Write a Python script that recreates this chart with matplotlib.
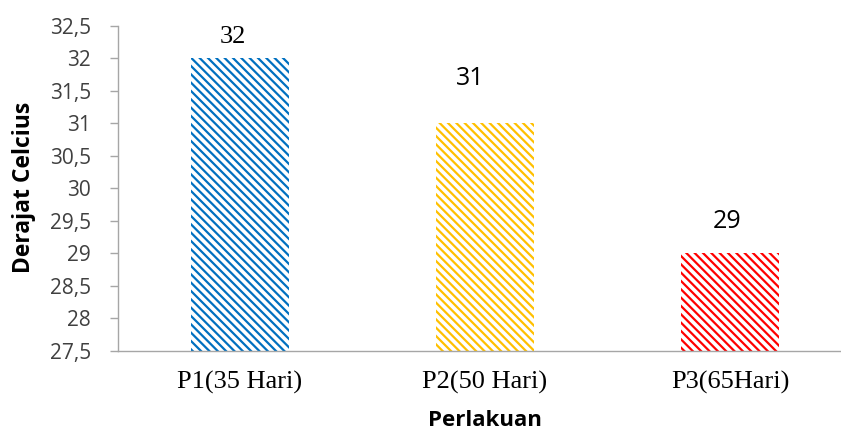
import matplotlib
matplotlib.use("Agg")
import matplotlib.pyplot as plt
from matplotlib.ticker import FuncFormatter

categories = ["P1(35 Hari)", "P2(50 Hari)", "P3(65Hari)"]
values = [32, 31, 29]
value_labels = ["32", "31", "29"]
bar_colors = ["#0070C0", "#FFC000", "#FF0000"]
y_ticks = [27.5, 28, 28.5, 29, 29.5, 30, 30.5, 31, 31.5, 32, 32.5]

# label style: first label was typed in a serif face in the original
label_fonts = ["Liberation Serif", "Open Sans", "Open Sans"]
label_sizes = [19, 18, 18]
label_offsets = [(-5.4, 11.5), (-10.8, 28), (-2.2, 18.7)]

plt.rcParams["hatch.linewidth"] = 1.6

fig = plt.figure(figsize=(8.41, 4.30), dpi=100)
ax = fig.add_axes([117.5 / 841, 79 / 430, 735 / 841, 325 / 430])

x = range(len(categories))
for i, v in enumerate(values):
    ax.bar(i, v - 27.5, bottom=27.5, width=0.4, facecolor="white",
           edgecolor=bar_colors[i], linewidth=0, hatch="\\\\\\\\")
    ax.annotate(value_labels[i], xy=(i, v), xytext=label_offsets[i],
                textcoords="offset points", ha="center", va="baseline",
                fontsize=label_sizes[i], family=label_fonts[i], color="black")

ax.set_xlim(-0.5, 2.5)
ax.set_ylim(27.5, 32.5)
ax.set_yticks(y_ticks)
ax.yaxis.set_major_formatter(FuncFormatter(lambda v, p: f"{v:g}".replace(".", ",")))
ax.set_xticks(list(x))
ax.set_xticklabels(categories, family="Liberation Serif", fontsize=19, color="black")

for lab in ax.get_yticklabels():
    lab.set_family("Open Sans")
    lab.set_fontsize(15)
    lab.set_color("#404040")

ax.tick_params(axis="y", direction="out", length=6, width=1, color="#A6A6A6", pad=13)
ax.tick_params(axis="x", length=0, pad=14)

for s in ["top", "right"]:
    ax.spines[s].set_visible(False)
for s in ["left", "bottom"]:
    ax.spines[s].set_color("#A6A6A6")
    ax.spines[s].set_linewidth(1)

fig.text(24 / 841, 1 - 187 / 430, "Derajat Celcius", rotation=90, ha="center",
         va="center", family="Open Sans", fontweight="bold", fontsize=16.5)
fig.text(485 / 841, 4 / 430, "Perlakuan", ha="center", va="baseline",
         family="Open Sans", fontweight="bold", fontsize=16)

fig.savefig("out.png", dpi=100)
